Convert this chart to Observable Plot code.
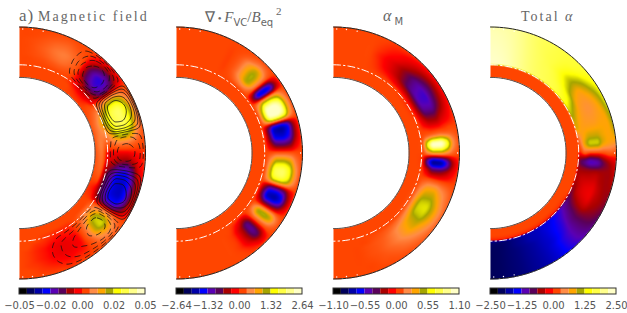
<!DOCTYPE html>
<html><head><meta charset="utf-8">
<script src="https://cdn.jsdelivr.net/npm/d3@7"></script>
<script src="https://cdn.jsdelivr.net/npm/@observablehq/plot@0.6"></script>
<style>
html,body{margin:0;padding:0;background:#fff}
#w{position:relative;width:627px;height:313px;overflow:hidden}
#w svg{display:block}
.t{position:absolute;white-space:nowrap;color:#666;font-family:"Liberation Serif",serif;font-size:14px;line-height:16px}
.t i{font-style:italic}
.t sub{font-size:10px;font-family:"DejaVu Sans",sans-serif;font-style:normal;vertical-align:-4px;line-height:0}
.t sup{font-size:11px;vertical-align:7px;line-height:0}
</style></head><body><div id="w">
<div class="t" style="left:19px;top:8px;font-size:17px;letter-spacing:1px">a)</div>
<div class="t" style="left:38px;top:9px;letter-spacing:2.05px">Magnetic field</div>
<div class="t" style="left:205px;top:9px;font-size:15px">∇<span style="font-size:11px"> • </span><i>F</i><sub>VC</sub>/<i>B</i><sub>eq</sub><sup>&nbsp;2</sup></div>
<div class="t" style="left:383px;top:8px;font-size:16px"><i>α</i><sub>&nbsp;M</sub></div>
<div class="t" style="left:521px;top:9px;letter-spacing:2px">Total <i>α</i></div>
</div>
<script>
// grid of the polar fields: colatitude (deg) by column, fractional radius by row
const thetas = [0,5,10,15,20,25,30,35,40,45,50,55,60,65,70,75,80,85,90,95,100,105,110,115,120,125,130,135,140,145,150,155,160,165,170,175,180];
const radiiA = [0.60,0.65,0.70,0.75,0.80,0.85,0.90,0.95,1.00];
const radiiB = [0.60,0.65,0.69,0.71,0.75,0.80,0.85,0.90,0.95,1.00];

// percent of each panel's colour-bar maximum
const magneticField = [
[0,0,0,0,0,0,0,0,0,0,0,0,0,2,3,3,3,3,3,2,2,1,0,-1,-1,0,0,0,0,0,0,0,0,0,0,0,0],
[0,0,0,0,0,0,0,0,-2,-4,-4,0,5,10,15,15,15,15,12,10,8,5,0,-5,-3,0,0,0,0,0,0,0,0,0,0,0,0],
[0,0,0,0,0,0,0,-2,-8,-14,-14,-8,10,25,35,25,15,3,-6,-10,-18,-25,-28,-28,-18,5,15,12,3,-2,-3,-3,-2,-1,0,0,0],
[0,0,1,2,4,5,3,-2,-14,-28,-30,-16,20,45,55,45,30,8,-7,-15,-30,-42,-45,-45,-30,12,32,25,6,-3,-5,-6,-5,-3,-2,0,0],
[0,1,3,6,10,12,8,0,-26,-44,-46,-26,34,66,70,66,46,12,-8,-22,-45,-60,-62,-60,-40,18,48,38,9,-5,-8,-9,-8,-5,-3,-1,0],
[0,1,4,8,13,15,10,0,-28,-47,-48,-26,38,70,74,68,46,12,-8,-25,-50,-62,-65,-62,-42,20,50,40,10,-5,-8,-9,-8,-5,-3,-1,0],
[0,1,3,6,10,11,7,0,-20,-36,-38,-18,30,58,62,58,36,8,-6,-18,-38,-50,-52,-50,-30,12,35,28,6,-4,-6,-7,-6,-4,-2,-1,0],
[0,0,1,3,5,6,3,0,-8,-18,-20,-8,10,28,35,28,15,3,-4,-8,-15,-22,-25,-22,-14,6,18,14,3,-2,-3,-4,-3,-2,-1,0,0],
[0,0,0,0,1,1,0,0,-2,-3,-4,-2,2,4,6,4,2,0,-1,-2,-3,-4,-4,-3,-2,1,3,2,0,0,0,-1,0,0,0,0,0]
];
// field-line function of panel a (arbitrary units)
const fieldLines = [
[0,0,0,0,0,0,0,0,0,0,0,0,0,0,0,0,0,0,0,0,0,0,0,0,0,0,0,0,0,0,0,0,0,0,0,0,0],
[0,0,0,0,0,0,0,0,0,0,0,0,0,0,0,0,0,0,0,0,0,0,0,0,0,0,0,0,0,0,0,0,0,0,0,0,0],
[0,0,0,0,0,0,0,0,-2,-3,-2,0,3,6,6,3,0,-1,-2,-1,1,4,7,7,3,-1,-3,-3,-2,-2,-1,-1,0,0,0,0,0],
[0,0,0,0,0,-1,-3,-12,-21,-25,-18,-3,38,55,52,33,-3,-12,-15,-11,7,36,52,55,33,-4,-19,-21,-18,-14,-12,-9,-4,-2,0,0,0],
[0,0,0,0,0,-1,-5,-20,-35,-42,-30,-5,66,95,90,57,-5,-20,-26,-19,11,62,90,95,57,-7,-32,-35,-30,-24,-20,-15,-7,-3,0,0,0],
[0,0,0,0,0,-1,-6,-22,-38,-45,-32,-6,70,100,95,60,-6,-22,-28,-20,12,65,95,100,60,-8,-35,-38,-32,-26,-22,-16,-8,-3,0,0,0],
[0,0,0,0,0,-1,-5,-18,-32,-38,-27,-5,60,85,80,51,-5,-19,-24,-17,10,55,80,85,51,-7,-30,-32,-27,-22,-19,-14,-7,-2,0,0,0],
[0,0,0,0,0,0,-3,-12,-22,-26,-18,-3,42,60,57,36,-3,-13,-16,-12,7,39,57,60,36,-5,-20,-22,-18,-15,-13,-9,-4,-1,0,0,0],
[0,0,0,0,0,0,0,0,0,0,0,0,0,0,0,0,0,0,0,0,0,0,0,0,0,0,0,0,0,0,0,0,0,0,0,0,0]
];
const divFlux = [
[0,0,0,0,0,0,0,0,0,0,0,0,0,0,0,0,0,0,0,0,0,0,0,0,0,0,0,0,0,0,0,0,0,0,0,0,0],
[0,0,0,0,0,0,0,0,0,0,0,0,0,0,0,0,0,0,0,0,0,0,0,0,0,0,0,0,0,0,0,0,0,0,0,0,0],
[0,0,0,0,0,0,0,0,0,0,0,0,0,0,0,0,0,0,0,0,0,0,0,0,0,0,0,0,0,0,0,0,0,0,0,0,0],
[0,0,0,0,0,0,0,4,14,20,5,-27,20,45,36,-25,-29,-16,2,22,34,25,-18,-31,-9,20,2,-17,-8,-1,0,0,0,0,0,0,0],
[0,0,0,0,0,0,0,8,28,43,11,-57,43,95,76,-52,-62,-33,5,46,70,52,-38,-65,-19,43,5,-36,-17,-3,0,0,0,0,0,0,0],
[0,0,0,0,0,0,0,8,30,45,12,-60,45,100,80,-55,-65,-35,5,48,74,55,-40,-68,-20,45,5,-38,-18,-3,0,0,0,0,0,0,0],
[0,0,0,0,0,0,0,7,26,38,10,-51,38,85,68,-47,-55,-30,4,41,62,46,-34,-58,-17,38,4,-32,-15,-3,0,0,0,0,0,0,0],
[0,0,0,0,0,0,0,3,10,16,4,-21,16,35,28,-19,-23,-12,2,16,27,20,-14,-24,-7,16,2,-13,-6,-1,0,0,0,0,0,0,0],
[0,0,0,0,0,0,0,0,0,0,0,0,0,0,0,0,0,0,0,0,0,0,0,0,0,0,0,0,0,0,0,0,0,0,0,0,0]
];
const alphaM = [
[0,0,0,0,0,0,0,0,0,0,0,0,0,0,0,0,0,0,0,0,0,0,0,0,0,0,0,0,0,0,0,0,0,0,0,0,0],
[0,0,0,0,0,0,0,0,0,0,0,0,0,0,0,0,0,0,0,0,0,0,0,0,0,0,0,0,0,0,0,0,0,0,0,0,0],
[0,0,0,0,0,0,0,0,0,0,-1,-2,-2,-1,0,0,0,1,0,-1,0,0,1,2,3,3,2,1,0,0,0,0,0,0,0,0,0],
[0,0,0,0,0,-1,-3,-5,-9,-14,-18,-22,-23,-19,-11,-3,9,57,18,-42,-14,0,14,24,30,29,22,16,11,7,4,2,0,0,0,0,0],
[0,0,0,0,0,-2,-6,-11,-18,-28,-38,-44,-45,-38,-22,-7,14,95,30,-70,-30,0,26,40,50,49,38,30,21,13,7,4,2,0,0,0,0],
[0,0,0,0,0,-3,-7,-12,-20,-30,-40,-46,-47,-40,-24,-8,15,95,30,-68,-28,0,28,42,52,50,40,32,22,14,8,4,2,0,0,0,0],
[0,0,0,0,0,-2,-5,-8,-14,-21,-29,-34,-33,-28,-16,-5,10,68,20,-48,-20,0,20,32,40,38,30,23,16,10,6,3,1,0,0,0,0],
[0,0,0,0,0,-1,-3,-5,-8,-12,-16,-19,-18,-15,-9,-3,6,22,7,-18,-9,0,12,18,24,23,18,13,9,6,3,2,0,0,0,0,0],
[0,0,0,0,0,0,-1,-1,-2,-3,-4,-5,-4,-4,-2,-1,1,2,0,-2,-1,0,3,6,7,7,5,4,2,1,1,0,0,0,0,0,0]
];
const totalAlpha = [
[0,0,0,0,0,0,0,0,0,0,0,0,0,0,0,0,0,0,0,0,0,0,0,0,0,0,0,0,0,0,0,0,0,0,0,0,0],
[0,0,0,0,0,0,0,0,0,0,0,0,0,0,0,0,0,0,0,0,0,0,0,0,0,0,0,0,0,0,0,0,0,0,0,0,0],
[0,0,0,0,0,0,0,0,0,0,0,0,0,0,0,0,0,0,0,0,0,0,0,0,-1,-2,-2,-3,-3,-3,-3,-3,-3,-3,-3,-3,-3],
[95,94,91,86,81,77,74,72,70,68,64,60,52,45,38,34,15,5,-5,-25,-20,-18,-20,-25,-32,-40,-48,-55,-60,-63,-66,-68,-72,-75,-78,-78,-78],
[94,93,90,85,80,76,73,71,69,66,60,54,44,35,30,28,30,32,5,-35,-22,-15,-14,-16,-25,-35,-45,-52,-58,-62,-66,-68,-72,-75,-78,-80,-80],
[93,92,89,84,79,75,72,70,66,58,48,36,28,25,25,28,38,48,0,-45,-22,-14,-10,-11,-18,-30,-40,-50,-56,-62,-66,-70,-73,-76,-78,-80,-81],
[92,91,88,83,78,74,71,68,62,52,42,30,25,22,24,28,38,48,0,-42,-20,-13,-9,-9,-15,-27,-37,-47,-55,-62,-66,-70,-73,-76,-78,-80,-81],
[91,90,87,82,77,73,70,68,64,58,48,38,30,26,27,30,33,33,2,-28,-20,-18,-15,-16,-20,-28,-37,-45,-52,-60,-66,-70,-73,-76,-78,-80,-81],
[90,89,86,81,76,72,70,68,66,64,58,50,42,36,32,30,30,28,5,-18,-20,-20,-20,-20,-24,-30,-38,-45,-52,-60,-66,-70,-73,-76,-78,-80,-81],
[88,87,85,80,75,72,70,68,67,66,64,60,56,54,50,45,38,25,3,-10,-14,-18,-22,-26,-30,-36,-42,-48,-54,-60,-66,-70,-73,-76,-78,-80,-81]
];
const tickLabels = [
["−0.05","−0.02","0.00","0.02","0.05"],
["−2.64","−1.32","0.00","1.32","2.64"],
["−1.10","−0.55","0.00","0.55","1.10"],
["−2.50","−1.25","0.00","1.25","2.50"]
];
const barColors = ["#000000","#00005a","#0000a8","#0000ff","#5a00b4","#5a005a","#aa0000","#ff0000","#ff4500","#ff8c46","#ffa500","#a5a500","#ffff00","#ffff46","#ffff8c","#ffffc8"];
const barLevels = [-94,-81,-69,-56,-44,-31,-19,-6,0,19,31,44,56,69,81,94];
const whiteTicks = [1.5,6,11,90,169,174,178.5];

const R = 126, S = 157/126, W = 627, H = 313, CY = 152.5, X0 = 19;
const rowsOf = [
  {rows: magneticField, radii: radiiA},
  {rows: divFlux, radii: radiiA},
  {rows: alphaM, radii: radiiA},
  {rows: totalAlpha, radii: radiiB}
];
[magneticField, fieldLines, divFlux, alphaM, totalAlpha].forEach((f, k) => f.forEach((row, j) => {
  if (row.length !== thetas.length) throw new Error("row length " + k + "," + j + ": " + row.length);
}));

const cr = (a, b, c, d, t) => b + 0.5 * t * (c - a + t * (2 * a - 5 * b + 4 * c - d + t * (3 * (b - c) + d - a)));
function atTheta(row, th) {
  const u = th / 5, i = Math.min(35, Math.max(0, Math.floor(u))), t = u - i;
  return cr(row[Math.max(0, i - 1)], row[i], row[i + 1], row[Math.min(36, i + 2)], t);
}
function sample(rows, radii, r, th) {
  let k = 0;
  while (k < radii.length - 2 && r > radii[k + 1]) k++;
  const y = j => atTheta(rows[Math.max(0, Math.min(radii.length - 1, j))], th);
  const h = radii[k + 1] - radii[k], t = (r - radii[k]) / h;
  const y0 = y(k), y1 = y(k + 1);
  const d = (y1 - y0) / h;
  const slope = (j) => {
    if (j <= 0 || j >= radii.length - 1) return d;
    const a = (y(j) - y(j - 1)) / (radii[j] - radii[j - 1]), b = (y(j + 1) - y(j)) / (radii[j + 1] - radii[j]);
    return a * b <= 0 ? 0 : 2 * a * b / (a + b);
  };
  const m0 = slope(k), m1 = slope(k + 1), t2 = t * t, t3 = t2 * t;
  return (2 * t3 - 3 * t2 + 1) * y0 + (t3 - 2 * t2 + t) * h * m0 + (-2 * t3 + 3 * t2) * y1 + (t3 - t2) * h * m1;
}
const toPolar = (x, y) => [Math.hypot(x, y), Math.atan2(x, y) * 180 / Math.PI];
const px = (p, r, th) => p * S + r * Math.sin(th * Math.PI / 180);
const py = (r, th) => r * Math.cos(th * Math.PI / 180);
const yOf = v => (CY - v) / R;

const marks = [];
const panels = [0, 1, 2, 3];
panels.forEach(p => {
  const {rows, radii} = rowsOf[p];
  marks.push(Plot.raster({
    x1: p * S, x2: p * S + 1.01, y1: -1.01, y2: 1.01, pixelSize: 1, interpolate: "none",
    fill: (x, y) => {
      const [r, th] = toPolar(x - p * S, y);
      if (x < p * S || r < 0.6 || r > 1) return NaN;
      return sample(rows, radii, r, th);
    }
  }));
});
// field lines of panel a
const psi = (x, y) => {
  if (x < 0) return 0;
  const [r, th] = toPolar(x, y);
  if (r < 0.6 || r > 1) return 0;
  return sample(fieldLines, radiiA, r, th);
};
marks.push(Plot.contour({value: psi, x1: 0, x2: 1.01, y1: -1.01, y2: 1.01, pixelSize: 1, thresholds: [8, 22, 40, 60, 80], fill: "none", stroke: "#111", strokeWidth: 0.8}));
marks.push(Plot.contour({value: (x, y) => -psi(x, y), x1: 0, x2: 1.01, y1: -1.01, y2: 1.01, pixelSize: 1, thresholds: [6, 14, 22, 32], fill: "none", stroke: "#111", strokeWidth: 0.8, strokeDasharray: "6,4"}));

const arc = d3.range(0, 181, 2);
panels.forEach(p => {
  marks.push(Plot.line(arc, {x: t => px(p, 1, t), y: t => py(1, t), stroke: "#222", strokeWidth: 1}));
  marks.push(Plot.line(arc, {x: t => px(p, 0.6, t), y: t => py(0.6, t), stroke: "#555", strokeWidth: 1}));
  marks.push(Plot.line(arc, {x: t => px(p, 0.7, t), y: t => py(0.7, t), stroke: "#fff", strokeWidth: 1, strokeDasharray: "7,3,1.5,3"}));
  marks.push(Plot.dot(whiteTicks, {x: t => px(p, 0.985, t), y: t => py(0.985, t), r: 0.7, fill: "#fff"}));
  // colour bar
  marks.push(Plot.rect(barLevels, {
    x1: (d, i) => p * S + i / 16, x2: (d, i) => p * S + (i + 1) / 16,
    y1: yOf(288), y2: yOf(294), fill: d => d
  }));
  marks.push(Plot.rect([p], {x1: p * S, x2: p * S + 1, y1: yOf(288), y2: yOf(294), fill: "none", stroke: "#333", strokeWidth: 1}));
  marks.push(Plot.text(tickLabels[p], {
    x: (d, i) => p * S + i / 4, y: yOf(305), text: d => d,
    fontFamily: "DejaVu Sans", fontSize: 10, fill: "#555"
  }));
});

const plot = Plot.plot({
  width: W, height: H, margin: 0, marginTop: 0, marginRight: 0, marginBottom: 0, marginLeft: 0,
  x: {domain: [-X0 / R, (W - X0) / R], range: [0, W], axis: null},
  y: {domain: [(CY - H) / R, CY / R], range: [H, 0], axis: null},
  color: {
    type: "linear",
    domain: barLevels,
    range: barColors,
    clamp: true,
    legend: false
  },
  marks: marks
});
document.getElementById("w").prepend(plot);
</script></body></html>
